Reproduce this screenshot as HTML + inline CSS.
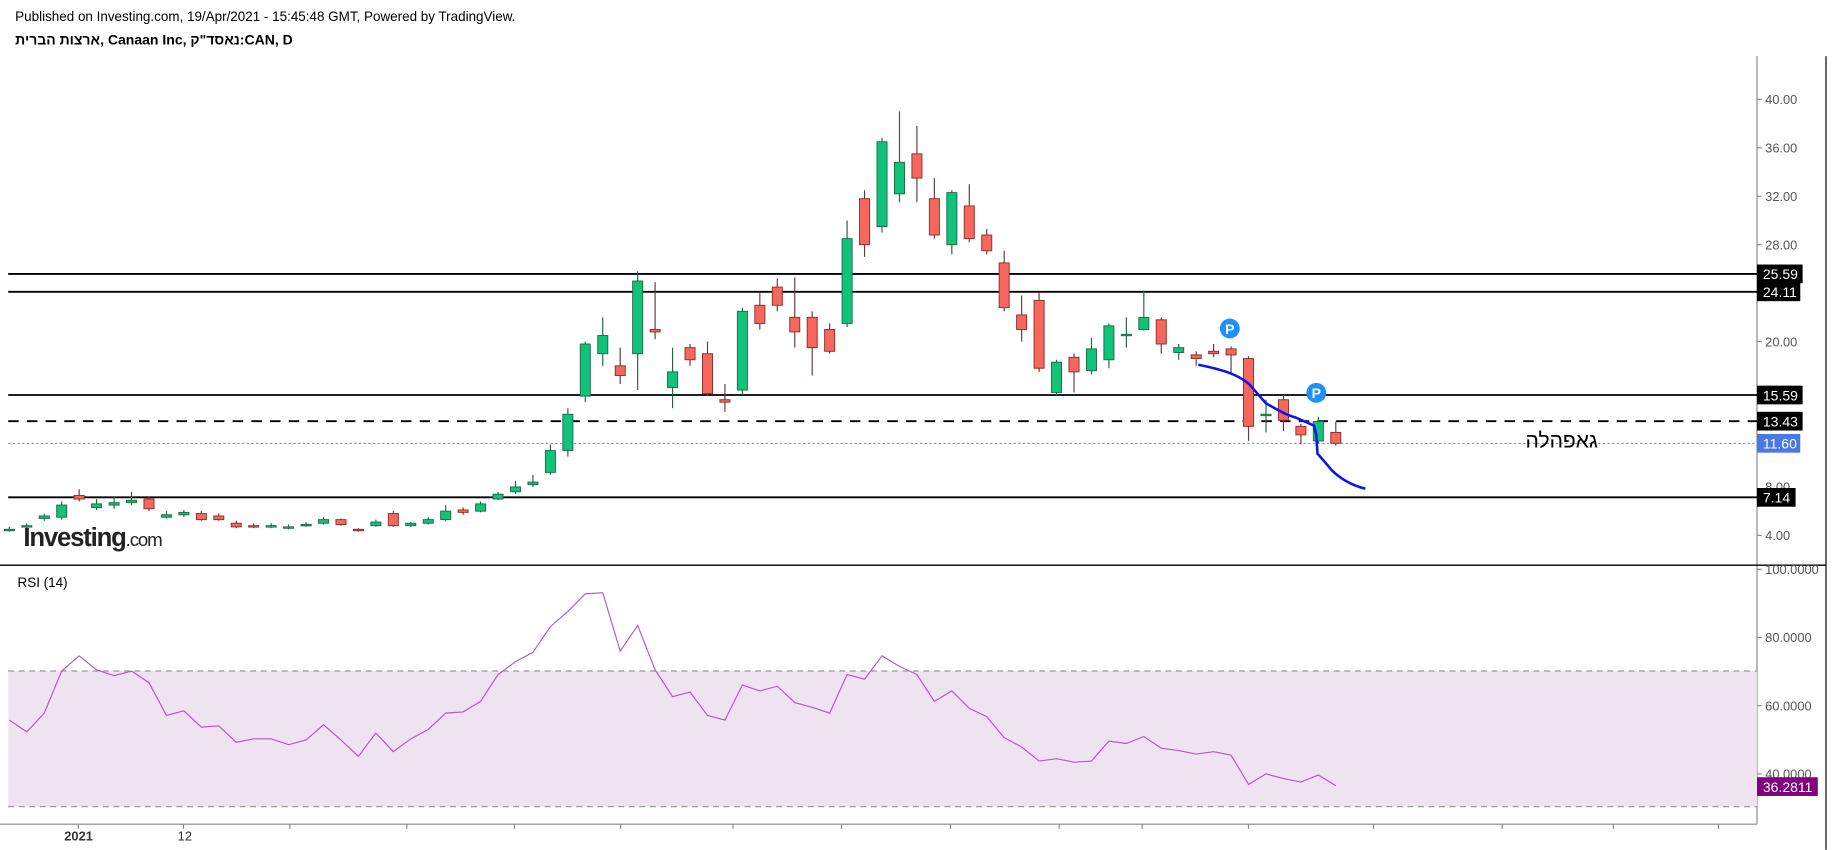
<!DOCTYPE html>
<html><head><meta charset="utf-8"><style>
html,body{margin:0;padding:0;background:#fff;width:1833px;height:850px;overflow:hidden}
svg{display:block;font-family:"Liberation Sans","Noto Sans CJK JP",sans-serif}
</style></head><body>
<svg id="s" width="1833" height="850" viewBox="0 0 1568 727.1" preserveAspectRatio="none" xmlns="http://www.w3.org/2000/svg">
<rect width="1568" height="728" fill="#fff"/>
<text x="13" y="18" font-size="11.5" fill="#000">Published on Investing.com, 19/Apr/2021 - 15:45:48 GMT, Powered by TradingView.</text>
<text x="13" y="38" font-size="12" font-weight="bold" fill="#000">ארצות הברית, Canaan Inc, נאסד"ק:CAN, D</text>
<!-- frame -->
<line x1="1503" y1="48" x2="1503" y2="705" stroke="#888" stroke-width="1"/>
<line x1="1562" y1="48" x2="1562" y2="727" stroke="#000" stroke-width="1"/>
<line x1="0" y1="483.5" x2="1562" y2="483.5" stroke="#000" stroke-width="1.2"/>
<line x1="0" y1="705" x2="1503" y2="705" stroke="#888" stroke-width="1"/>
<!-- RSI band -->
<rect x="7" y="574" width="1496" height="116" fill="#efe2f1"/>
<line x1="7" y1="574" x2="1503" y2="574" stroke="#999" stroke-dasharray="5,4"/>
<line x1="7" y1="690" x2="1503" y2="690" stroke="#999" stroke-dasharray="5,4"/>
<g id="g"></g>
<text x="15" y="502" font-size="11.5" fill="#000">RSI (14)</text>
<text x="20" y="467" font-size="22" font-weight="bold" fill="#222" letter-spacing="-1">Investing<tspan font-size="16" font-weight="normal">.com</tspan></text>
<text x="1305" y="383" font-size="18" fill="#000">גאפהלה</text>
</svg>
<script>
const g=document.getElementById('g');let h='';
const py=p=>85+(40-p)*10.36;
const ry=r=>487+(100-r)*2.917;
// price ticks
[40,36,32,28,20,4].forEach(p=>{h+=`<line x1="1503" y1="${py(p)}" x2="1507" y2="${py(p)}" stroke="#888"/><text x="1510" y="${py(p)+4}" font-size="11" fill="#555">${p.toFixed(2)}</text>`});
h+=`<text x="1510" y="${py(8)+4}" font-size="11" fill="#555">8.00</text>`;
[100,80,60,40].forEach(r=>{h+=`<line x1="1503" y1="${ry(r)}" x2="1507" y2="${ry(r)}" stroke="#888"/><text x="1510" y="${ry(r)+4}" font-size="11" fill="#555">${r.toFixed(4)}</text>`});
// time ticks
[67,157,248,348,440,531,627,720,813,906,977,1068,1175,1285,1380,1470].forEach(x=>{h+=`<line x1="${x}" y1="705" x2="${x}" y2="709" stroke="#888"/>`});
h+=`<text x="55" y="719" font-size="11" font-weight="bold" fill="#333">2021</text><text x="152" y="719" font-size="11" fill="#333">12</text>`;
// horizontal lines
[[25.59,''],[24.11,''],[15.59,''],[7.14,'']].forEach(([p])=>{h+=`<line x1="7" y1="${py(p)}" x2="1503" y2="${py(p)}" stroke="#000" stroke-width="1.6"/>`});
h+=`<line x1="7" y1="${py(13.43)}" x2="1503" y2="${py(13.43)}" stroke="#000" stroke-width="1.6" stroke-dasharray="9,7"/>`;
h+=`<line x1="7" y1="${py(11.6)}" x2="1503" y2="${py(11.6)}" stroke="#4a72e8" stroke-width="0.8" stroke-dasharray="2,2"/>`;
const C=[[4.4,4.5,4.7,4.3],[4.7,4.8,5,4.6],[5.4,5.6,5.8,5.2],[5.5,6.5,6.8,5.3],[7.3,7,7.8,6.8],[6.3,6.6,7,6.1],[6.5,6.7,7.2,6.2],[6.7,6.9,7.6,6.5],[7,6.2,7.2,6],[5.5,5.7,6,5.4],[5.7,5.9,6.1,5.5],[5.8,5.3,6,5.2],[5.6,5.3,5.8,5.2],[5,4.7,5.2,4.6],[4.8,4.7,5,4.6],[4.8,4.8,5,4.6],[4.6,4.7,4.9,4.5],[4.8,4.9,5.1,4.7],[5,5.3,5.5,4.9],[5.3,4.9,5.4,4.8],[4.5,4.4,4.6,4.3],[4.8,5.1,5.3,4.7],[5.8,4.8,6,4.7],[4.8,5,5.1,4.7],[5,5.3,5.5,4.9],[5.3,6,6.5,5.2],[6.1,5.9,6.3,5.7],[6,6.6,6.8,5.9],[7,7.4,7.6,6.9],[7.6,8,8.5,7.4],[8.2,8.4,9,8],[9.2,11,11.5,9],[11,14,14.5,10.5],[15.5,19.8,20,15],[19,20.5,22,18],[18,17.2,19.5,16.5],[19,25,25.8,16],[21,20.8,24.9,20.2],[16.2,17.5,19.5,14.5],[19.5,18.5,19.8,18],[19,15.7,20,15.5],[15.2,15,16.5,14.2],[16,22.5,22.8,15.6],[23,21.5,24,21],[24.5,23,25.2,22.5],[22,20.8,25.3,19.5],[22,19.5,22.5,17.2],[21,19.2,21.5,19],[21.5,28.5,30,21.2],[31.8,28,32.5,27],[29.5,36.5,36.8,29],[32.2,34.8,39,31.5],[35.5,33.5,37.8,31.5],[31.8,28.8,33.5,28.5],[28,32.3,32.5,27.2],[31.2,28.5,33,28.2],[28.8,27.5,29.3,27.2],[26.5,22.8,27.5,22.5],[22.2,21,23.8,20],[23.4,17.8,24,17.5],[15.8,18.3,18.5,15.5],[18.7,17.5,19,15.8],[17.6,19.4,20.3,17.3],[18.5,21.3,21.5,17.8],[20.6,20.6,22,19.5],[21,22,24.2,20.9],[21.8,19.8,22,19],[19.1,19.5,19.8,18.5],[18.9,18.6,19.2,18],[19.2,19,19.8,18.7],[19.4,18.9,19.6,17.3],[18.6,13,18.8,11.8],[14,14,15.2,12.5],[15.2,13.5,15.6,12.6],[13,12.3,13.2,11.5],[11.8,13.4,13.8,11.6],[12.5,11.6,13.4,11.4]];
const R=[616,626,610,574,561,573,578,574,584,612,608,622,621,635,632,632,637,633,620,633,647,627,643,632,624,610,609,600,577,566,558,536,523,508,507,557,535,573,596,592,612,616,586,591,587,601,605,610,577,581,561,570,577,600,591,606,613,631,639,651,649,652,651,634,636,630,640,642,645,643,646,671,662,666,669,663,672];
let rp='';
C.forEach((c,i)=>{const x=8+i*14.93;const [o,cl,hi,lo]=c;const up=cl>=o;
const f=up?'#10c27a':'#f6685e',st=up?'#1d6b45':'#8a2f2a';
h+=`<line x1="${x}" y1="${py(hi)}" x2="${x}" y2="${py(lo)}" stroke="${up?'#2f5e45':'#5e3f3c'}" stroke-width="1"/>`;
const t=py(Math.max(o,cl)),b=py(Math.min(o,cl));
h+=`<rect x="${x-4.3}" y="${t}" width="8.6" height="${Math.max(b-t,1.2)}" fill="${f}" stroke="${st}" stroke-width="0.8"/>`;
rp+=(i?' L':'M')+x+' '+R[i];});
h+=`<path d="${rp}" fill="none" stroke="#b05cc0" stroke-width="1"/>`;
h+=`<path d="M1025 312 C1045 316,1058 320,1068 328 L1083 345 C1092 350,1100 355,1108 357 L1124 364 L1126 372 L1127 388 L1134 396 L1139 402 C1145 408,1155 415,1168 418" fill="none" stroke="#0a14f0" stroke-width="2.2"/>`;
h+=`<circle cx="1052" cy="281" r="8.5" fill="#1e90ff"/><text x="1052" y="285.5" font-size="12" font-weight="bold" fill="#fff" text-anchor="middle">P</text>`;
h+=`<circle cx="1126" cy="336" r="8.5" fill="#1e90ff"/><text x="1126" y="340.5" font-size="12" font-weight="bold" fill="#fff" text-anchor="middle">P</text>`;
// labels
const lab=(v,txt,bg,w)=>{const y=py(v);h+=`<line x1="1503" y1="${y}" x2="1507" y2="${y}" stroke="#fff"/><rect x="1503" y="${y-8}" width="${w}" height="16" fill="${bg}"/><text x="1508" y="${y+4.5}" font-size="12" fill="#fff">${txt}</text>`};
lab(25.59,'25.59','#000',39);lab(24.11,'24.11','#000',37);lab(15.59,'15.59','#000',39);lab(13.43,'13.43','#000',39);lab(11.6,'11.60','#4b78e6',37);lab(7.14,'7.14','#000',33);
const y=ry(36.2811);h+=`<rect x="1503" y="${y-8}" width="52" height="16" fill="#800080"/><text x="1508" y="${y+4.5}" font-size="12" fill="#fff">36.2811</text>`;
g.innerHTML=h;
</script>
</body></html>
